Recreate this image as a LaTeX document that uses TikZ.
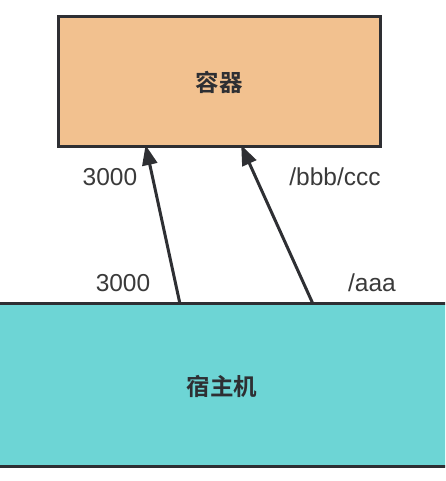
\documentclass[tikz,border=0pt]{standalone}
\usepackage{fontspec}
\setmainfont{Liberation Sans}
\newfontfamily\cjk{Noto Sans CJK SC}[BoldFont=* Bold]
\usetikzlibrary{arrows.meta,calc}
\definecolor{peach}{HTML}{F2C18F}
\definecolor{teal2}{HTML}{6DD5D5}
\definecolor{ink}{HTML}{2E2F33}
\definecolor{txt}{HTML}{3A3A3A}
\tikzset{
  box/.style={draw=ink, line width=3pt, inner sep=0pt},
  arr/.style={draw=ink, line width=3pt, -{Triangle[length=20pt,width=15pt]}, shorten >=-2pt},
  lbl/.style={text=txt, font=\fontsize{24.5}{28}\selectfont},
  cjklbl/.style={text=ink, font=\cjk\bfseries\fontsize{23.5}{27}\selectfont}
}
\begin{document}
\begin{tikzpicture}[x=1pt,y=1pt]
\useasboundingbox (0,0) rectangle (445,481);
\clip (0,0) rectangle (445,481);
\node[box, fill=peach, minimum width=322pt, minimum height=130pt] (cont) at (219,399) {};
\node[cjklbl] (contl) at (219,399) {容器};
\node[box, fill=teal2, minimum width=480pt, minimum height=163pt] (host) at (222,95.5) {};
\node[cjklbl] (hostl) at (222,95) {宿主机};
\coordinate (t1) at (180,177);
\coordinate (h1) at (146,334);
\coordinate (t2) at (313,177);
\coordinate (h2) at (242,334);
\draw[arr] (t1) -- (h1);
\draw[arr] (t2) -- (h2);
\node[lbl] (l1) at (110,304) {3000};
\node[lbl] (l2) at (335,304) {/bbb/ccc};
\node[lbl] (l3) at (123,198) {3000};
\node[lbl] (l4) at (372,198) {/aaa};
\end{tikzpicture}
\end{document}
